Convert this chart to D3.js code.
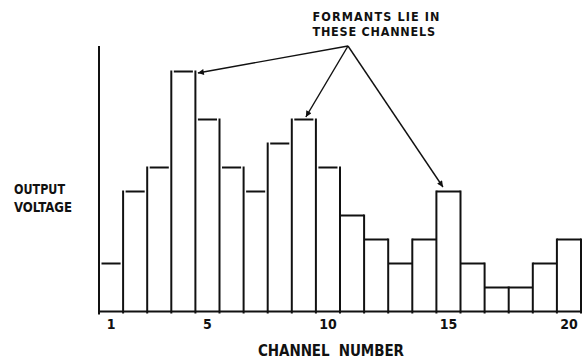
<!DOCTYPE html>
<html>
<head>
<meta charset="utf-8">
<script src="https://cdn.jsdelivr.net/npm/d3@7"></script>
<style>
  html, body { margin: 0; padding: 0; background: #fff; }
  svg { display: block; }
  text { font-family: "DejaVu Sans Condensed", "DejaVu Sans", sans-serif; font-weight: bold; fill: #111; }
</style>
</head>
<body>
<script>
// ---- data ----
const channels = d3.range(1, 21);
const outputVoltage = [2, 5, 6, 10, 8, 6, 5, 7, 8, 6, 4, 3, 2, 3, 5, 2, 1, 1, 2, 3];
const tickLabels = [1, 5, 10, 15, 20];
const formantChannels = [4, 9, 15];
const annotationLines = ["FORMANTS LIE IN", "THESE CHANNELS"];
const xTitle = "CHANNEL  NUMBER";
const yTitleLines = ["OUTPUT", "VOLTAGE"];

// ---- layout ----
const W = 588, H = 359;
const svg = d3.select("body").append("svg").attr("width", W).attr("height", H);

const x = d3.scaleBand().domain(channels).range([99, 581]).padding(0);
const y = d3.scaleLinear().domain([0, 11]).range([311.5, 47.5]);

const ink = "#111";

// baseline
svg.append("line")
  .attr("x1", x.range()[0] - 1).attr("x2", x.range()[1] + 1)
  .attr("y1", y(0)).attr("y2", y(0))
  .attr("stroke", ink).attr("stroke-width", 2);

// y axis line (no ticks)
svg.append("line")
  .attr("x1", x.range()[0]).attr("x2", x.range()[0])
  .attr("y1", y(0) + 3).attr("y2", y(11) - 1.5)
  .attr("stroke", ink).attr("stroke-width", 2);

// bar boundaries: vertical lines up to the taller neighbour
const bounds = d3.range(0, channels.length + 1).map(i => ({
  x: i < channels.length ? x(channels[i]) : x.range()[1],
  v: Math.max(i > 0 ? outputVoltage[i - 1] : 0, i < channels.length ? outputVoltage[i] : 0)
}));
svg.append("g").selectAll("line").data(bounds).join("line")
  .attr("x1", d => d.x).attr("x2", d => d.x)
  .attr("y1", y(0) + 2).attr("y2", d => y(d.v) - 1)
  .attr("stroke", ink).attr("stroke-width", 2);

// bar tops
svg.append("g").selectAll("line").data(channels).join("line")
  .attr("x1", (c, i) => x(c) + (i < 10 ? 2.5 : 0))
  .attr("x2", (c, i) => x(c) + x.bandwidth() - (i < 10 ? 2.5 : 0))
  .attr("y1", (c, i) => y(outputVoltage[i]))
  .attr("y2", (c, i) => y(outputVoltage[i]))
  .attr("stroke", ink).attr("stroke-width", 2);

// tick labels
svg.append("g").selectAll("text").data(tickLabels).join("text")
  .attr("x", d => x(d) + x.bandwidth() / 2)
  .attr("y", 329)
  .attr("text-anchor", "middle")
  .attr("font-size", 14)
  .text(d => d);

// x title
svg.append("text")
  .attr("x", 258).attr("y", 356)
  .attr("font-size", 15)
  .attr("xml:space", "preserve")
  .style("white-space", "pre")
  .attr("textLength", 146).attr("lengthAdjust", "spacing")
  .text(xTitle);

// y title
const yLens = [51, 58];
svg.append("g").selectAll("text").data(yTitleLines).join("text")
  .attr("x", 14)
  .attr("y", (d, i) => 194 + i * 17.5)
  .attr("font-size", 14)
  .attr("textLength", (d, i) => yLens[i]).attr("lengthAdjust", "spacingAndGlyphs")
  .text(d => d);

// annotation
const aLens = [127, 122.5];
svg.append("g").selectAll("text").data(annotationLines).join("text")
  .attr("x", 312.5)
  .attr("y", (d, i) => 20.5 + i * 15.5)
  .attr("font-size", 12.5)
  .attr("textLength", (d, i) => aLens[i]).attr("lengthAdjust", "spacing")
  .text(d => d);

// arrows from a common origin to formant bar tops
const origin = [348, 46];
const tipOffsets = { 4: [14.5, -1.5], 9: [2, 2.5], 15: [-5.5, 4.5] };
const defs = svg.append("defs");
defs.append("marker")
  .attr("id", "ah").attr("viewBox", "0 0 10 10")
  .attr("refX", 10).attr("refY", 5)
  .attr("markerWidth", 9).attr("markerHeight", 6)
  .attr("markerUnits", "userSpaceOnUse")
  .attr("orient", "auto")
  .append("path").attr("d", "M0,0 L10,5 L0,10 Z").attr("fill", ink);

svg.append("g").selectAll("line").data(formantChannels).join("line")
  .attr("x1", origin[0]).attr("y1", origin[1])
  .attr("x2", c => x(c) + x.bandwidth() / 2 + tipOffsets[c][0])
  .attr("y2", c => y(outputVoltage[c - 1]) - tipOffsets[c][1])
  .attr("stroke", ink).attr("stroke-width", 1.4)
  .attr("marker-end", "url(#ah)");
</script>
</body>
</html>
